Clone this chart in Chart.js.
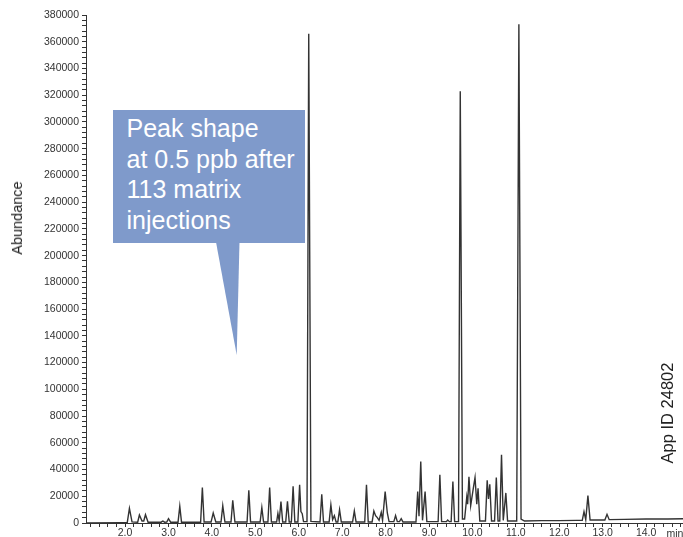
<!DOCTYPE html>
<html>
<head>
<meta charset="utf-8">
<script src="https://cdn.jsdelivr.net/npm/chart.js@4.4.1/dist/chart.umd.min.js"></script>
<style>
  html, body { margin: 0; padding: 0; background: #fff; }
  #wrap { position: relative; width: 683px; height: 537px; overflow: hidden;
          font-family: "Liberation Sans", Arial, sans-serif; }
  #chart { position: absolute; left: 0; top: 0; }
  .ylab { position: absolute; left: 17px; top: 218px; transform: translate(-50%, -50%) rotate(-90deg);
          font-size: 14.5px; color: #222; white-space: nowrap; }
  .appid { position: absolute; left: 667px; top: 413px; transform: translate(-50%, -50%) rotate(-90deg);
           font-size: 16.5px; color: #222; white-space: nowrap; }
  .unit { position: absolute; left: 675px; top: 533px; transform: translate(-50%, -50%);
          font-size: 10.5px; color: #333; }
  .callout { position: absolute; left: 113px; top: 110px; width: 192px; height: 133px;
             box-sizing: border-box; padding: 3px 0 0 13.5px; background: #7f9acb;
             color: #fff; font-size: 25px; line-height: 30.5px; white-space: nowrap; }
  .pointer { position: absolute; left: 0; top: 0; }
</style>
</head>
<body>
<div id="wrap">
  <canvas id="chart" width="683" height="537"></canvas>
  <svg class="pointer" width="683" height="537">
    <polygon points="216,242 239.5,242 236.7,355" fill="#7f9acb"/>
  </svg>
  <div class="callout">Peak shape<br>at 0.5 ppb after<br>113 matrix<br>injections</div>
  <div class="ylab">Abundance</div>
  <div class="appid">App ID 24802</div>
  <div class="unit">min</div>
</div>
<script>
// retention time (min)
var times = [
  1.10, 1.90, 2.05, 2.10, 2.16, 2.29, 2.33, 2.39, 2.43, 2.47, 2.53,
  2.83, 2.87, 2.91, 2.96, 3.00, 3.05, 3.22, 3.26, 3.30,
  3.74, 3.78, 3.82, 3.98, 4.03, 4.09, 4.21, 4.25, 4.30, 4.44, 4.48, 4.53,
  4.81, 4.85, 4.89, 5.11, 5.15, 5.19, 5.29, 5.33, 5.37,
  5.49, 5.52, 5.55, 5.59, 5.63, 5.70, 5.74, 5.78, 5.83, 5.87, 5.91,
  5.98, 6.02, 6.05, 6.08, 6.11, 6.19, 6.23, 6.28,
  6.49, 6.53, 6.57, 6.70, 6.74, 6.78, 6.82, 6.86, 6.90, 6.94, 6.98,
  7.24, 7.28, 7.32, 7.52, 7.56, 7.60, 7.69, 7.73, 7.77, 7.81, 7.85, 7.90, 7.93,
  7.99, 8.04, 8.08, 8.19, 8.23, 8.27, 8.32, 8.36, 8.40,
  8.70, 8.74, 8.77, 8.81, 8.85, 8.91, 8.95, 9.21, 9.25, 9.29,
  9.40, 9.43, 9.47, 9.51, 9.55, 9.59, 9.68, 9.72, 9.77,
  9.82, 9.87, 9.89, 9.92, 9.96, 10.03, 10.06, 10.10, 10.13, 10.17,
  10.30, 10.34, 10.37, 10.40, 10.44, 10.51, 10.55, 10.59, 10.63, 10.67, 10.71, 10.77, 10.81,
  11.02, 11.07, 11.12, 11.20, 11.60, 12.00, 12.40,
  12.53, 12.57, 12.61, 12.66, 12.71, 13.05, 13.10, 13.15, 13.50, 14.00, 14.50, 14.85
];
// abundance (counts)
var abundance = [
  0, 300, 300, 11000, 800, 600, 6000, 1500, 1500, 6200, 600,
  600, 1500, 600, 700, 3200, 600, 600, 12500, 600,
  600, 26500, 700, 700, 7500, 700, 700, 13000, 700, 700, 17000, 700,
  700, 24500, 700, 700, 11500, 700, 700, 26500, 700,
  700, 7200, 1500, 16000, 700, 700, 16200, 700, 700, 27500, 800,
  800, 28500, 8500, 7000, 1000, 1000, 366000, 1200,
  800, 21500, 800, 800, 13500, 2500, 5500, 800, 800, 10000, 800,
  800, 9000, 800, 800, 28500, 800, 800, 9000, 5500, 4000, 2000, 8000, 2000,
  23500, 7500, 1000, 1000, 5500, 1000, 1000, 3200, 800,
  800, 23500, 5000, 46000, 2000, 23500, 1000, 1000, 36000, 1000,
  1000, 2200, 1000, 1000, 31000, 1000, 1000, 323000, 3000,
  3000, 19500, 14000, 34500, 13000, 28000, 34000, 14000, 26000, 1500,
  1500, 32000, 18000, 29000, 1500, 1500, 34000, 1500, 1500, 51000, 2000, 22500, 1500,
  1500, 373000, 3000, 1500, 1800, 1800, 2000,
  2000, 8500, 2500, 20500, 2200, 2200, 6500, 2500, 2700, 3000, 3000, 3200
];
var yLabelStep = 20000;

var points = times.map(function (t, i) { return { x: t, y: abundance[i] }; });

var tickFont = { family: '"Liberation Sans", Arial, sans-serif', size: 10.5 };

var config = {
  type: 'line',
  data: {
    datasets: [{
      data: points,
      borderColor: '#333',
      borderWidth: 1.4,
      pointRadius: 0,
      tension: 0,
      fill: false
    }]
  },
  options: {
    responsive: false,
    animation: false,
    layout: { padding: { top: 15, right: 0, bottom: 0, left: 0 } },
    plugins: { legend: { display: false }, tooltip: { enabled: false } },
    scales: {
      x: {
        type: 'linear',
        min: 1.1,
        max: 14.85,
        afterFit: function (s) { s.height = 14; },
        border: { color: '#333', width: 1 },
        grid: { drawOnChartArea: false, tickLength: 4, tickColor: '#333' },
        ticks: {
          stepSize: 0.2,
          includeBounds: false,
          autoSkip: false,
          maxRotation: 0,
          padding: 0,
          color: '#333',
          font: tickFont,
          callback: function (v) {
            return Math.abs(v - Math.round(v)) < 1e-6 && v >= 2 ? Number(v).toFixed(1) : '';
          }
        }
      },
      y: {
        min: 0,
        max: 380000,
        afterFit: function (s) { s.width = 86; },
        border: { color: '#333', width: 1 },
        grid: { drawOnChartArea: false, tickLength: 4, tickColor: '#333' },
        ticks: {
          stepSize: 4000,
          autoSkip: false,
          padding: 3,
          color: '#333',
          font: tickFont,
          callback: function (v) { return v % yLabelStep === 0 ? String(v) : ''; }
        }
      }
    }
  }
};

window.myChart = new Chart(document.getElementById('chart'), config);
</script>
</body>
</html>
